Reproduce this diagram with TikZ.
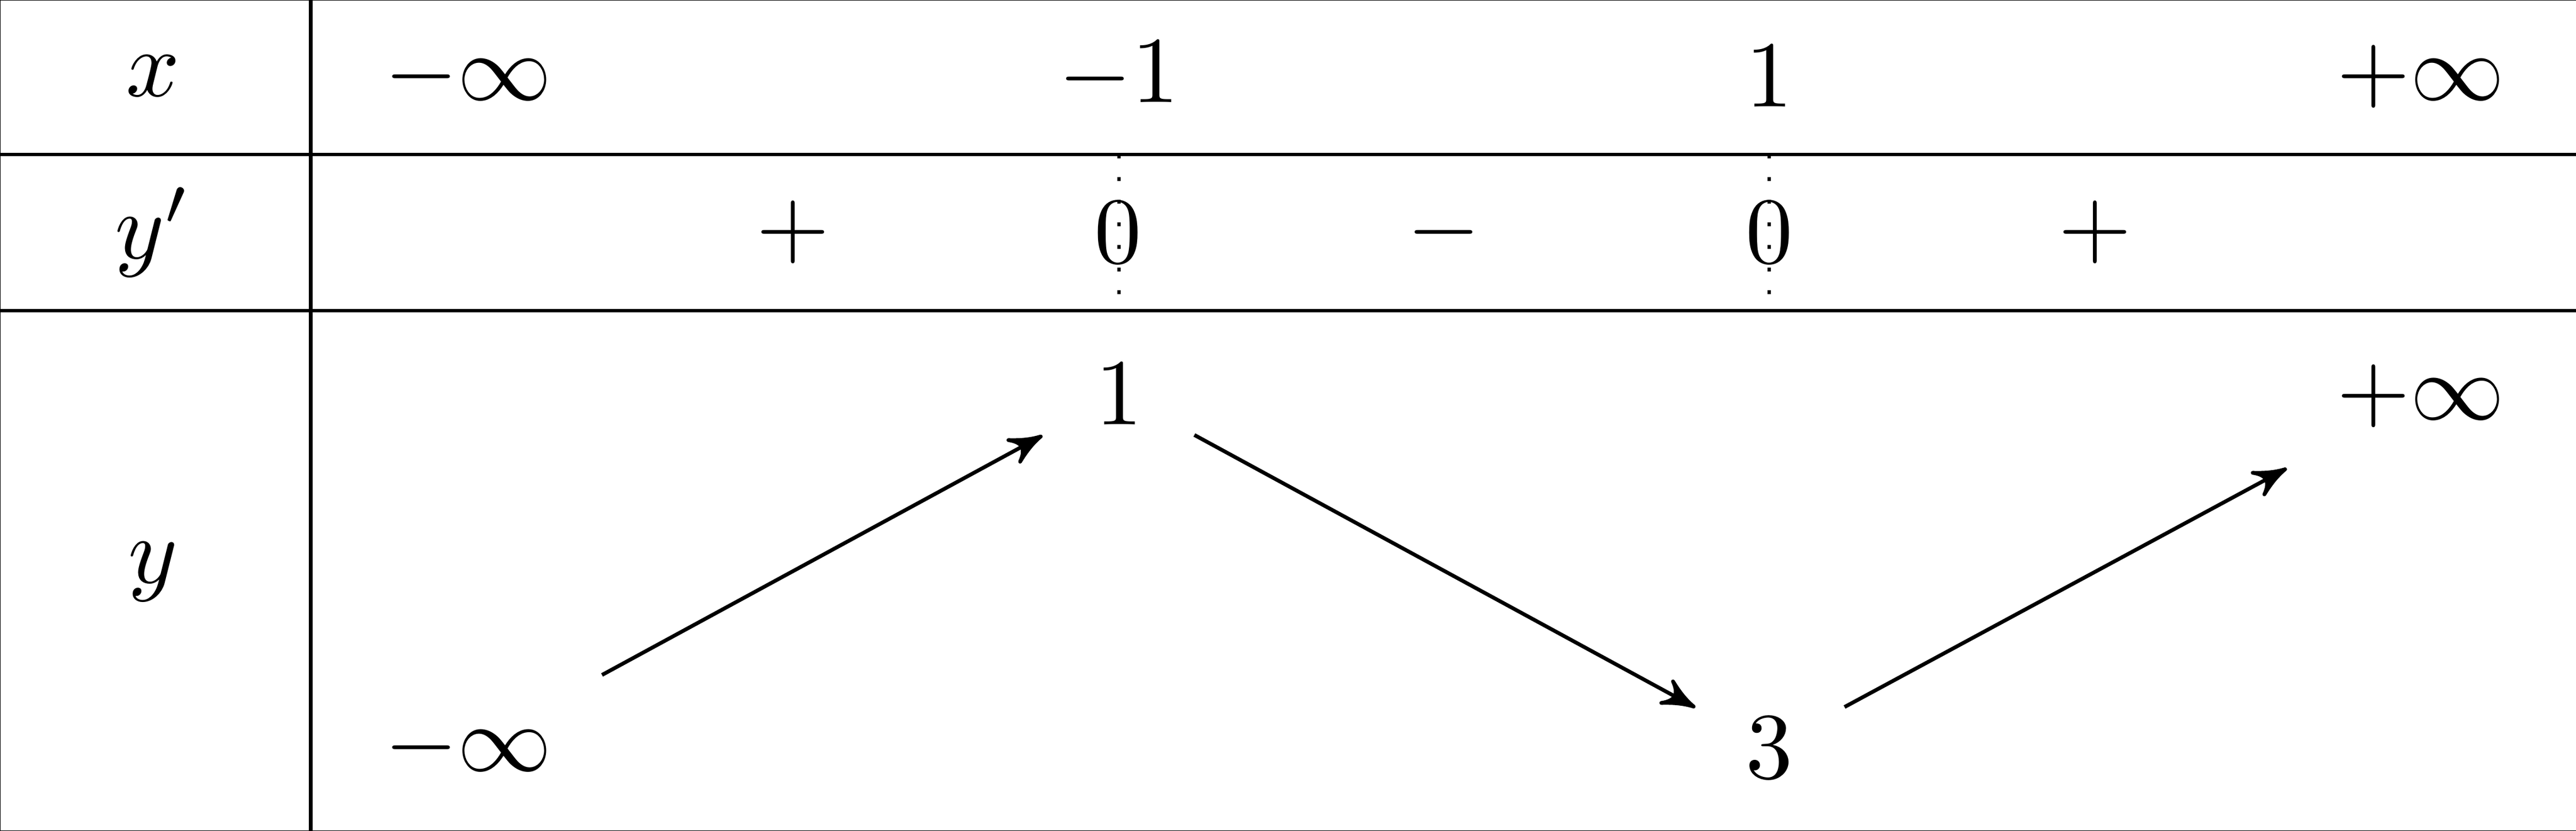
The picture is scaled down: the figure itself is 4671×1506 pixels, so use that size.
\documentclass[tikz,border=0pt]{standalone}
\usetikzlibrary{arrows}
\begin{document}
\begin{tikzpicture}[x=0.05848pt,y=-0.05848pt,line width=0.4pt,
  lbl/.style={inner sep=0pt},
  var/.style={->,>=stealth'},
  sep/.style={dotted}]
\useasboundingbox (0,0) rectangle (4671,1506);
% frame and grid
\draw (-2.5,-2.5) rectangle (4677,1508.5);
\draw (563.5,0) -- (563.5,1506);
\draw (0,280) -- (4677,280);
\draw (0,563) -- (4677,563);
% headers
\node[lbl] (hx) at (277,138) {$x$};
\node[lbl] (hyp) at (277,421) {$y'$};
\node[lbl] (hy) at (277,1036) {$y$};
% x row
\node[lbl] (x1) at (849,139) {$-\infty$};
\node[lbl] (x2) at (2029,138) {$-1$};
\node[lbl] (x3) at (3208,138) {$1$};
\node[lbl] (x4) at (4389,139) {$+\infty$};
% y' row
\node[lbl] (s1) at (1438,421) {$+$};
\node[lbl] (z1) at (2027,421) {$0$};
\node[lbl] (s2) at (2618,421) {$-$};
\node[lbl] (z2) at (3208,421) {$0$};
\node[lbl] (s3) at (3799,421) {$+$};
\draw[sep] (2029,280) -- (2029,563);
\draw[sep] (3208,280) -- (3208,563);
% y row
\node[lbl] (v1) at (849,1355) {$-\infty$};
\node[lbl] (v2) at (2029,714) {$1$};
\node[lbl] (v3) at (3208,1355) {$3$};
\node[lbl] (v4) at (4389,718) {$+\infty$};
\draw[var,shorten <=16.15pt,shorten >=9.24pt] (v1.center) -- (v2.center);
\draw[var,shorten <=9.1pt,shorten >=8.92pt] (v2.center) -- (v3.center);
\draw[var,shorten <=9.08pt,shorten >=16.12pt] (v3.center) -- (v4.center);
\end{tikzpicture}
\end{document}
